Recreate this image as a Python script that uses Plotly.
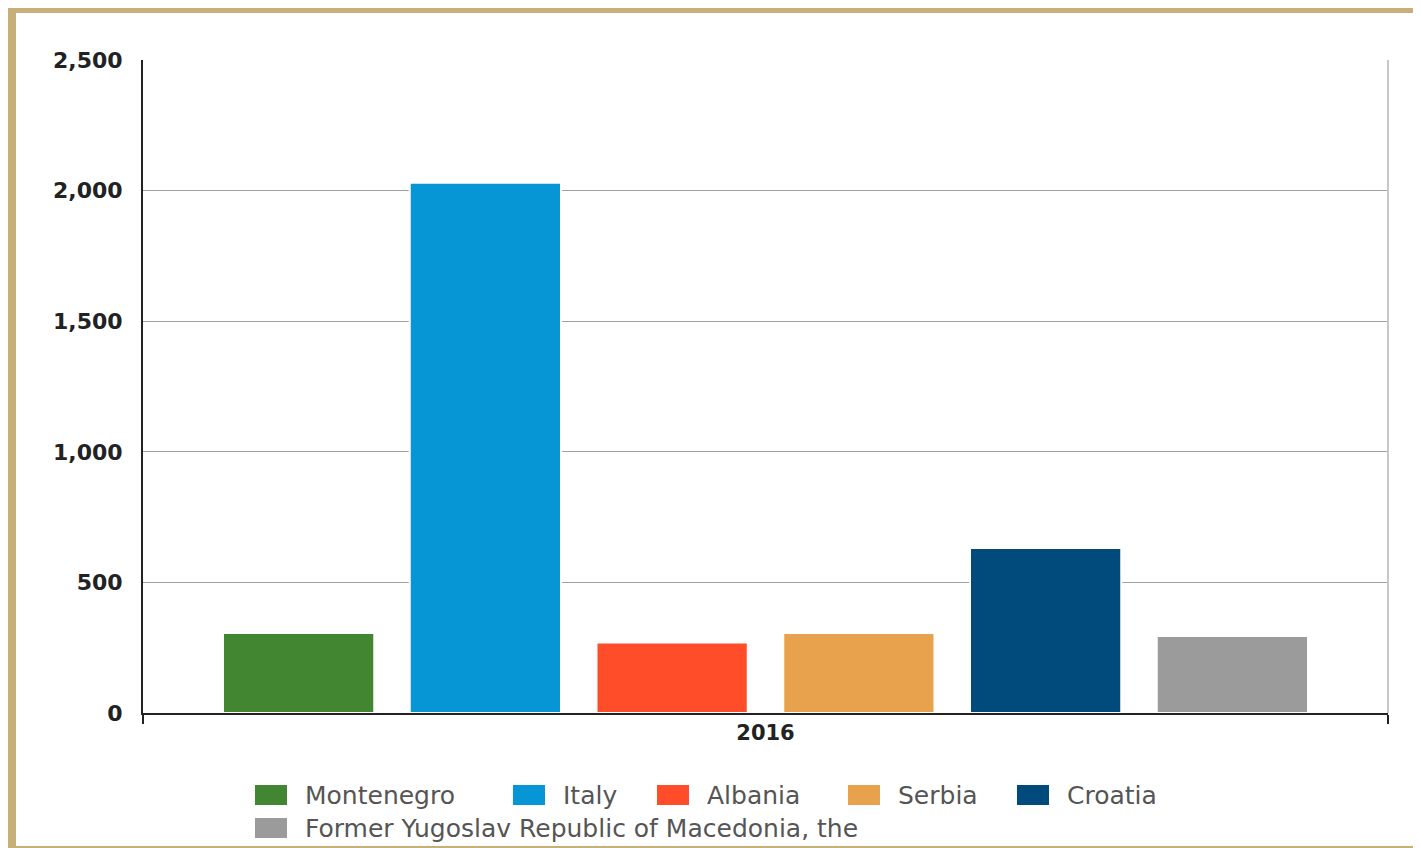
import plotly.graph_objects as go

categories = ["2016"]
countries = ["Montenegro", "Italy", "Albania", "Serbia", "Croatia",
             "Former Yugoslav Republic of Macedonia, the"]
values = [306, 2030, 270, 306, 632, 295]
colors = ["#438631", "#0696d6", "#ff4d2a", "#e8a24e", "#004a7c", "#9b9b9b"]
y_ticks = [0, 500, 1000, 1500, 2000, 2500]

# page body has an 8px margin: screen = figure + 8
OFF = 8
W, H = 1421 - OFF, 848 - OFF
L, R, T, B = 143 - OFF, 33, 60 - OFF, 135
PW, PH = W - L - R, H - T - B


def px_x(p):  # screen px -> paper
    return (p - OFF - L) / PW


def px_y(p):
    return (H - B - (p - OFF)) / PH


fig = go.Figure()
for name, v, c in zip(countries, values, colors):
    fig.add_trace(go.Bar(x=categories, y=[v], name=name, marker_color=c,
                         marker_line_color="white", marker_line_width=2,
                         showlegend=False))

shapes = [
    # frame
    dict(type="rect", xref="paper", yref="paper", layer="below",
         x0=px_x(12), x1=px_x(1450), y0=px_y(850), y1=px_y(9),
         line=dict(color="#c6af78", width=8), fillcolor="white"),
    # right plot border
    dict(type="line", xref="paper", yref="paper", x0=1, x1=1, y0=0, y1=1,
         line=dict(color="#c8c8c8", width=2)),
]
annotations = []

# manual legend (swatch left px, row)
legend_pos = [(255, 0), (513, 0), (657, 0), (848, 0), (1017, 0), (255, 1)]
row_y = [795, 828]
for (sx, row), name, c in zip(legend_pos, countries, colors):
    cy = row_y[row]
    shapes.append(dict(type="rect", xref="paper", yref="paper",
                       x0=px_x(sx), x1=px_x(sx + 32),
                       y0=px_y(cy + 10), y1=px_y(cy - 10),
                       fillcolor=c, line=dict(width=0)))
    annotations.append(dict(xref="paper", yref="paper", x=px_x(sx + 48),
                            y=px_y(cy), text=name, showarrow=False,
                            xanchor="left", yanchor="middle",
                            font=dict(family="DejaVu Sans", size=25, color="#555555")))

fig.update_layout(
    width=W, height=H,
    margin=dict(l=L, r=R, t=T, b=B),
    paper_bgcolor="#f0f0f0",
    plot_bgcolor="white",
    barmode="group",
    bargap=0.1,
    bargroupgap=0.19,
    shapes=shapes,
    annotations=annotations,
    showlegend=False,
    xaxis=dict(
        showline=True, linecolor="#222222", linewidth=2,
        ticks="outside", tickson="boundaries", ticklen=9, tickwidth=2,
        tickcolor="#222222",
        tickfont=dict(family="DejaVu Sans", size=21, color="#222222", weight="bold"),
        showgrid=False,
    ),
    yaxis=dict(
        range=[0, 2500], tickvals=y_ticks, tickformat=",",
        showline=True, linecolor="#222222", linewidth=2,
        showgrid=True, gridcolor="#a0a0a0", gridwidth=1,
        zeroline=False, ticks="", ticklabelstandoff=14,
        tickfont=dict(family="DejaVu Sans", size=22, color="#222222", weight="bold"),
    ),
)

fig.write_html("out.html")
